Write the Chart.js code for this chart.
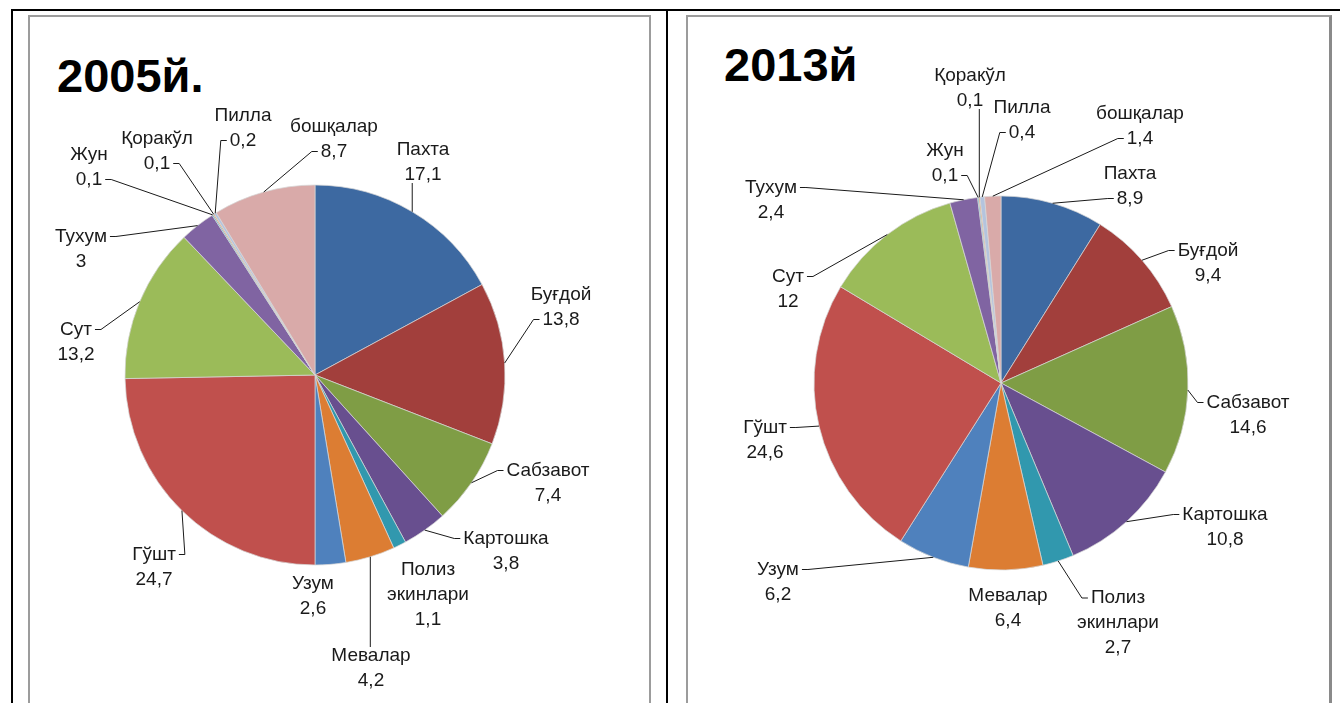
<!DOCTYPE html>
<html>
<head>
<meta charset="utf-8">
<script src="https://cdn.jsdelivr.net/npm/chart.js@4.4.1/dist/chart.umd.min.js"></script>
<style>
    html, body { margin: 0; padding: 0; background: #fff; overflow: hidden; }
    body { width: 1340px; height: 703px; position: relative; }
    .box { position: absolute; box-sizing: border-box; }
    .title { position: absolute; font: bold 47px "Liberation Sans", Arial, sans-serif; line-height: 47px; color: #000; white-space: nowrap; }
    canvas { position: absolute; }
</style>
</head>
<body>
<div class="box" style="left:11px;top:9px;width:1400px;height:740px;border:2px solid #000;"></div>
<div class="box" style="left:666px;top:9px;width:2px;height:740px;background:#000;"></div>
<div class="box" style="left:28px;top:15px;width:623px;height:740px;border:2px solid #9c9c9c;"></div>
<div class="box" style="left:686px;top:15px;width:646px;height:740px;border:2px solid #9c9c9c;border-right:3px solid #8a8a8a;"></div>

<div class="title" id="title2005" style="left:57px;top:52px;"></div>
<div class="title" id="title2013" style="left:724px;top:41px;"></div>

<div style="position:absolute;left:30px;top:17px;width:619px;height:686px;">
    <canvas id="pie2005"></canvas>
</div>
<div style="position:absolute;left:688px;top:17px;width:641px;height:686px;">
    <canvas id="pie2013"></canvas>
</div>

<script>
    // Chart data (shares, %)
    const categories = ['Пахта', 'Буғдой', 'Сабзавот', 'Картошка', 'Полиз\nэкинлари', 'Мевалар', 'Узум',
        'Гўшт', 'Сут', 'Тухум', 'Жун', 'Қоракўл', 'Пилла', 'бошқалар'];
    const values2005 = [17.1, 13.8, 7.4, 3.8, 1.1, 4.2, 2.6, 24.7, 13.2, 3, 0.1, 0.1, 0.2, 8.7];
    const values2013 = [8.9, 9.4, 14.6, 10.8, 2.7, 6.4, 6.2, 24.6, 12, 2.4, 0.1, 0.1, 0.4, 1.4];
    const titles = ['2005й.', '2013й'];

    // Slice colours (Excel 2007 palette as seen in the picture)
    const sliceColors = ['#3d69a1', '#a23f3c', '#7f9d45', '#684f8f', '#3198ae', '#dc7d33', '#4f81bd',
        '#c0504d', '#9bbb59', '#8064a2', '#4bacc6', '#f79646', '#b4c4de', '#d9aaa9'];

    // Label placement: offset of each label block from the pie centre (px)
    const labelOffsets2005 = [[108, -213], [246, -68], [233, 108], [191, 176], [113, 220], [56, 293], [-2, 221],
        [-161, 192], [-239, -33], [-234, -126], [-226, -208], [-158, -224], [-72, -247], [19, -236]];
    const labelOffsets2013 = [[129, -197], [207, -120], [247, 32], [224, 144], [117, 240], [7, 225], [-223, 199],
        [-236, 57], [-213, -94], [-230, -183], [-56, -220], [-31, -295], [21, -263], [139, -257]];

    const LABEL_FONT = '19px "Liberation Sans", Arial, sans-serif';
    const LINE_H = 25;

    const fmt = v => String(v).replace('.', ',');

    // Draws the outside labels and leader lines, anchored on each arc
    const leaderLabels = {
        id: 'leaderLabels',
        afterDatasetsDraw(chart, args, opts) {
            const ctx = chart.ctx;
            const meta = chart.getDatasetMeta(0);
            const values = chart.data.datasets[0].data;
            ctx.save();
            ctx.font = LABEL_FONT;
            ctx.textAlign = 'center';
            ctx.textBaseline = 'middle';
            ctx.lineWidth = 1;
            ctx.strokeStyle = '#1a1a1a';
            ctx.fillStyle = '#1a1a1a';
            meta.data.forEach((arc, i) => {
                const p = arc.getProps(['x', 'y', 'startAngle', 'endAngle', 'outerRadius'], true);
                const mid = (p.startAngle + p.endAngle) / 2;
                const ax = p.x + Math.cos(mid) * p.outerRadius;
                const ay = p.y + Math.sin(mid) * p.outerRadius;
                const lines = chart.data.labels[i].split('\n').concat(fmt(values[i]));
                const cx = p.x + opts.offsets[i][0];
                const cy = p.y + opts.offsets[i][1];
                const top = cy - lines.length * LINE_H / 2;
                const bottom = top + lines.length * LINE_H;
                const rows = lines.map((t, k) => {
                    const w = ctx.measureText(t).width;
                    return {t, left: cx - w / 2, right: cx + w / 2, ly: top + LINE_H * (k + 0.5)};
                });

                // leader line to the nearest text row (skipped when the label sits next to the slice)
                const near = rows.reduce((a, b) => Math.abs(b.ly - ay) < Math.abs(a.ly - ay) ? b : a);
                let pts, minLen = 12;
                if (ax < near.left - 4) {
                    pts = [[ax, ay], [near.left - 9, near.ly], [near.left - 3, near.ly]];
                } else if (ax > near.right + 4) {
                    pts = [[ax, ay], [near.right + 9, near.ly], [near.right + 3, near.ly]];
                } else {
                    pts = [[ax, ay], [ax, ay < cy ? top + 4 : bottom - 4]];
                    minLen = 22;
                }
                const last = pts[pts.length - 1];
                if (Math.hypot(last[0] - ax, last[1] - ay) > minLen) {
                    ctx.beginPath();
                    ctx.moveTo(pts[0][0], pts[0][1]);
                    pts.slice(1).forEach(q => ctx.lineTo(q[0], q[1]));
                    ctx.stroke();
                }

                rows.forEach(r => ctx.fillText(r.t, cx, r.ly));
            });
            ctx.restore();
        }
    };

    const makePie = (id, values, radius, padding, offsets) => {
        const ctx = document.getElementById(id).getContext('2d');
        return new Chart(ctx, {
            type: 'pie',
            data: {
                labels: categories,
                datasets: [{
                    data: values,
                    backgroundColor: sliceColors,
                    borderColor: 'rgba(215,215,215,0.9)',
                    borderWidth: 0.8,
                }],
            },
            options: {
                responsive: true,
                maintainAspectRatio: false,
                animation: false,
                radius: radius,
                layout: {padding: padding},
                plugins: {
                    legend: {display: false},
                    tooltip: {enabled: false},
                    title: {display: false},
                    leaderLabels: {offsets: offsets},
                },
            },
            plugins: [leaderLabels],
        });
    };

    document.getElementById('title2005').textContent = titles[0];
    document.getElementById('title2013').textContent = titles[1];

    makePie('pie2005', values2005, 190, {left: 95, right: 144, top: 168, bottom: 138}, labelOffsets2005);
    makePie('pie2013', values2013, 187, {left: 126, right: 141, top: 179, bottom: 133}, labelOffsets2013);
</script>
</body>
</html>
